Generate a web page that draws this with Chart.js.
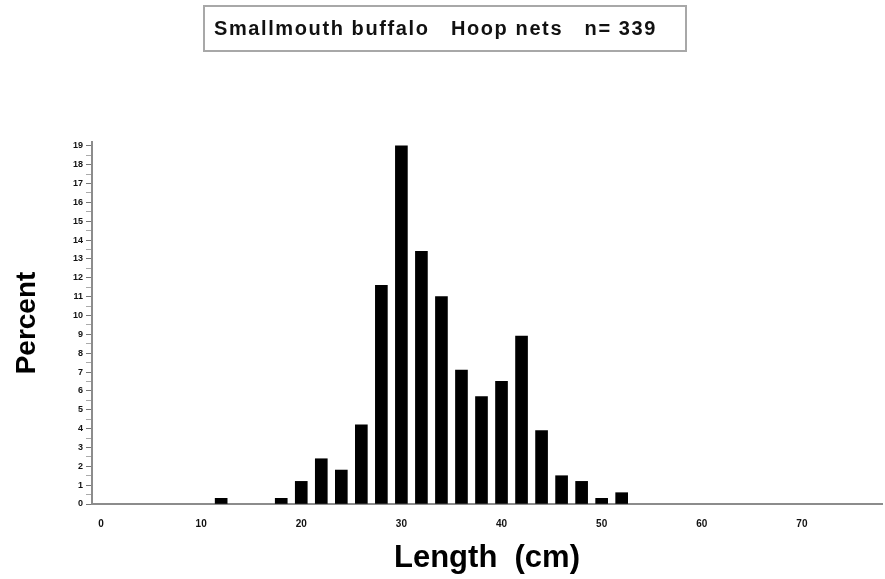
<!DOCTYPE html>
<html>
<head>
<meta charset="utf-8">
<script src="https://cdn.jsdelivr.net/npm/chart.js@4/dist/chart.umd.min.js"></script>
<style>
  body{margin:0;background:#fff;}
  #wrap{position:relative;width:885px;height:579px;}
  #box{position:absolute;left:203px;top:5px;width:484px;height:47px;box-sizing:border-box;
       border:2px solid #a8a8a8;font:bold 20px "Liberation Sans",Arial,sans-serif;
       letter-spacing:1.6px;color:#111;line-height:43px;padding-left:9px;white-space:pre;}
  canvas{position:absolute;left:0;top:0;}
</style>
</head>
<body>
<div id="wrap">
  <canvas id="hist" width="885" height="579"></canvas>
  <div id="box">Smallmouth buffalo   Hoop nets   n= 339</div>
</div>
<script>
/* length-frequency, smallmouth buffalo, hoop nets */
const lengthBins = [12, 18, 20, 22, 24, 26, 28, 30, 32, 34, 36, 38, 40, 42, 44, 46, 48, 50, 52];
const percentVals = [0.3, 0.3, 1.2, 2.4, 1.8, 4.2, 11.6, 19.0, 13.4, 11.0, 7.1, 5.7, 6.5, 8.9, 3.9, 1.5, 1.2, 0.3, 0.6];
const xTickVals = [0, 10, 20, 30, 40, 50, 60, 70];
const yMaxLabel = 19;

const yTickVals = [];
for(let v=0; v<=yMaxLabel; v+=0.5) yTickVals.push(v);

const axisGray = '#8c8c8c';
const tickFont = {family:'"Liberation Sans", Arial, sans-serif', size:9, weight:'bold'};

new Chart(document.getElementById('hist'),{
  type:'bar',
  data:{
    datasets:[{
      data: lengthBins.map((x,i)=>({x, y:percentVals[i]})),
      backgroundColor:'#000',
      borderWidth:0,
      barThickness:12
    }]
  },
  options:{
    responsive:false,
    animation:false,
    layout:{padding:{top:142, right:3, left:0, bottom:0}},
    plugins:{legend:{display:false}, tooltip:{enabled:false}, title:{display:false}},
    scales:{
      x:{
        type:'linear', min:-0.9, max:78, offset:false,
        afterBuildTicks:s=>{ s.ticks = xTickVals.map(v=>({value:v})); },
        afterFit:s=>{ s.height = 75; },
        grid:{display:false, drawTicks:false, offset:false},
        border:{display:true, color:axisGray, width:2},
        ticks:{color:'#111', font:{...tickFont, size:10}, padding:14, maxRotation:0, autoSkip:false},
        title:{display:true, text:'Length  (cm)', color:'#000',
               font:{family:'"Liberation Sans", Arial, sans-serif', size:31, weight:'bold'},
               padding:{top:0, bottom:2}}
      },
      y:{
        min:0, max:19.2,
        afterBuildTicks:s=>{ s.ticks = yTickVals.map(v=>({value:v})); },
        afterFit:s=>{ s.width = 92; },
        grid:{drawOnChartArea:false, drawTicks:true, tickLength:6, tickWidth:1,
              tickColor:ctx=> Number.isInteger(ctx.tick && ctx.tick.value) ? '#777' : '#aaa'},
        border:{display:true, color:axisGray, width:2},
        ticks:{color:'#111', font:tickFont, padding:3, autoSkip:false,
               callback:v=> Number.isInteger(v) ? String(v) : ''},
        title:{display:true, text:'Percent', color:'#000',
               font:{family:'"Liberation Sans", Arial, sans-serif', size:28, weight:'bold'},
               padding:{top:10, bottom:0}}
      }
    }
  }
});
</script>
</body>
</html>
